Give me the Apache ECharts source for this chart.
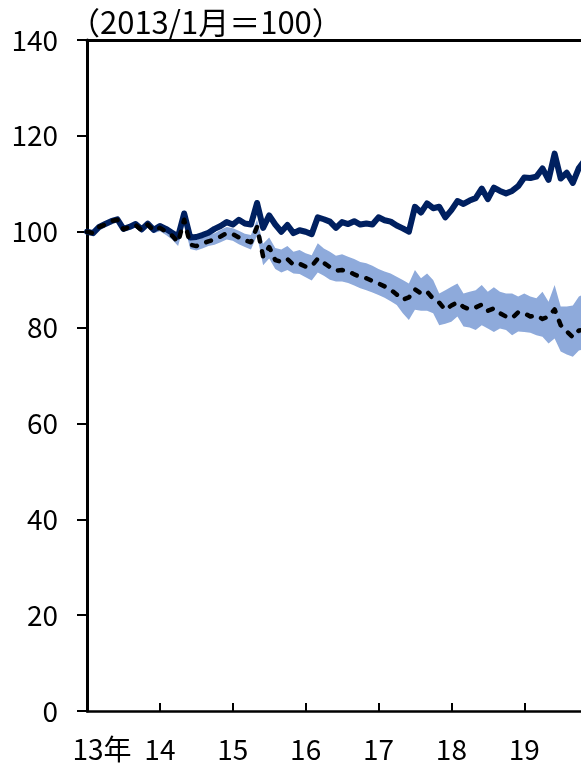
<!DOCTYPE html>
<html>
<head>
<meta charset="utf-8">
<script src="https://cdn.jsdelivr.net/npm/echarts@6/dist/echarts.min.js"></script>
<style>
html,body{margin:0;padding:0;background:#fff;}
#c{width:581px;height:767px;}
</style>
</head>
<body>
<div id="c"></div>
<script>
// Monthly index values, Jan 2013 = month 0
var yearTicks = ['13年', '14', '15', '16', '17', '18', '19', '20', '21'];
var navy = [100.0, 99.7, 101.0, 101.6, 102.2, 102.6, 100.6, 101.0, 101.6, 100.5, 101.7, 100.4,
 101.2, 100.6, 99.8, 99.0, 103.8, 98.8, 98.9, 99.3, 99.8, 100.6, 101.2, 102.0,
 101.5, 102.5, 101.7, 101.5, 106.0, 100.8, 103.4, 101.5, 100.0, 101.4, 99.7, 100.3,
 100.0, 99.5, 103.0, 102.6, 102.1, 100.8, 102.0, 101.6, 102.2, 101.5, 101.7, 101.5,
 103.0, 102.4, 102.1, 101.3, 100.7, 100.0, 105.2, 104.0, 105.9, 104.9, 105.2, 103.0,
 104.5, 106.4, 105.8, 106.5, 107.0, 109.0, 106.8, 109.2, 108.5, 108.0, 108.5, 109.5,
 111.3, 111.2, 111.5, 113.2, 110.8, 116.3, 111.1, 112.3, 110.2, 113.3, 115.0];
var dashed = [100.0, 99.7, 101.0, 101.5, 102.2, 102.5, 100.5, 101.0, 101.4, 100.3, 101.5, 100.2,
 100.8, 100.0, 99.2, 97.8, 102.5, 97.3, 97.0, 97.5, 98.0, 98.4, 99.0, 99.7,
 99.5, 98.8, 98.2, 97.8, 101.0, 94.8, 96.8, 94.1, 93.7, 94.3, 93.1, 93.3,
 92.7, 92.8, 94.4, 93.5, 92.6, 91.9, 92.0, 91.8, 91.1, 90.6, 90.3, 89.7,
 89.2, 88.6, 87.9, 86.9, 85.8, 86.3, 88.0, 87.1, 87.5, 86.0, 85.2, 83.7,
 84.6, 85.3, 84.3, 83.8, 84.2, 84.8, 83.5, 84.0, 83.0, 82.3, 82.0, 83.2,
 83.0, 82.3, 82.5, 81.8, 82.3, 83.8, 80.5, 79.2, 78.0, 79.4, 79.5];
var bandUpper = [100.5, 100.2, 101.5, 102.0, 102.7, 103.0, 101.0, 101.5, 101.9, 100.8, 102.0, 100.8,
 101.5, 101.0, 100.3, 99.3, 103.5, 98.5, 98.3, 98.8, 99.3, 99.7, 100.4, 101.0,
 100.7, 100.2, 99.6, 99.3, 102.5, 97.5, 98.8, 96.6, 96.3, 97.0, 95.8, 96.2,
 95.5, 95.1, 97.6, 96.5, 95.8, 95.0, 95.3, 94.8, 94.3, 93.7, 93.4, 92.9,
 92.2, 91.7, 91.3, 90.6, 89.9, 89.2, 92.0, 90.3, 91.3, 89.9, 87.1, 87.8,
 88.5, 89.2, 87.1, 87.5, 87.8, 88.9, 87.5, 88.4, 87.5, 87.1, 87.1, 86.5,
 87.1, 86.5, 86.1, 87.5, 85.4, 88.9, 84.4, 84.4, 84.6, 86.5, 87.0];
var bandLower = [99.5, 99.2, 100.5, 101.0, 101.7, 102.0, 100.0, 100.5, 100.9, 99.8, 101.0, 99.7,
 100.1, 99.3, 98.4, 97.0, 101.5, 96.4, 96.1, 96.5, 97.0, 97.3, 97.8, 98.4,
 98.1, 97.4, 96.8, 96.3, 99.2, 93.0, 94.4, 92.2, 91.5, 92.0, 91.3, 91.2,
 90.5, 89.8, 91.5, 90.8, 90.0, 89.6, 89.6, 89.3, 88.8, 88.2, 87.8, 87.3,
 86.8, 86.2, 85.5, 84.7, 83.0, 81.6, 83.7, 83.5, 83.5, 83.0, 80.5, 80.8,
 81.2, 82.3, 80.2, 80.0, 79.5, 80.5, 79.8, 79.1, 79.8, 79.5, 78.4, 79.2,
 79.1, 78.9, 78.4, 78.1, 76.7, 77.7, 75.0, 74.4, 73.9, 75.2, 75.5];

var FONT = '"Noto Sans CJK JP", sans-serif';
var months = [];
for (var i = 0; i <= 96; i++) months.push(String(i));
var bandDiff = bandUpper.map(function (v, i) { return +(v - bandLower[i]).toFixed(2); });
function yearMark(idx) { return idx % 12 === 0; }

var chart = echarts.init(document.getElementById('c'), null, {renderer: 'canvas'});
chart.setOption({
  animation: false,
  backgroundColor: '#ffffff',
  title: {
    text: '（2013/1月＝100）',
    left: 64, top: 2,
    textStyle: {fontFamily: FONT, fontSize: 31, fontWeight: 'normal', color: '#000'}
  },
  grid: {left: 87, top: 40, bottom: 56, width: 583, containLabel: false, outerBoundsMode: 'none'},
  xAxis: [{
    type: 'category', data: months, boundaryGap: false,
    axisLine: {show: true, onZero: false, lineStyle: {color: '#000', width: 2.5}},
    axisTick: {show: true, inside: true, length: 8, interval: function (i) { return yearMark(i); },
               lineStyle: {color: '#000', width: 2}},
    splitLine: {show: false},
    axisLabel: {
      margin: 24, color: '#000', fontFamily: FONT, fontSize: 28, hideOverlap: false,
      interval: function (i) { return yearMark(i); },
      formatter: function (v, idx) {
        var t = yearTicks[Math.round(idx / 12)];
        return idx === 0 ? '{a|' + t + '}' : t;
      },
      rich: {a: {fontFamily: FONT, fontSize: 28, color: '#000', padding: [0, 0, 0, 30]}}
    }
  }, {
    type: 'value', min: 0, max: 96, position: 'top',
    axisLine: {show: true, onZero: false, lineStyle: {color: '#000', width: 3}},
    axisTick: {show: false}, axisLabel: {show: false}, splitLine: {show: false}
  }],
  yAxis: {
    type: 'value', min: 0, max: 140, interval: 20,
    axisLine: {show: true, lineStyle: {color: '#000', width: 3}},
    axisTick: {show: true, inside: false, length: 10, lineStyle: {color: '#000', width: 2}},
    splitLine: {show: false},
    axisLabel: {margin: 29, color: '#000', fontFamily: FONT, fontSize: 28}
  },
  series: [{
    type: 'line', name: 'lower', data: bandLower, stack: 'band',
    symbol: 'none', lineStyle: {width: 0, opacity: 0}, silent: true, z: 1
  }, {
    type: 'line', name: 'band', data: bandDiff, stack: 'band',
    symbol: 'none', lineStyle: {width: 0, opacity: 0},
    areaStyle: {color: '#8eaadb', opacity: 1}, silent: true, z: 1
  }, {
    type: 'line', name: 'navy', data: navy,
    symbol: 'none', lineStyle: {color: '#002060', width: 6, cap: 'round', join: 'round'}, z: 3
  }, {
    type: 'line', name: 'dashed', data: dashed,
    symbol: 'none', lineStyle: {color: '#000', width: 4.5, type: [5, 10], cap: 'round', join: 'round'}, z: 4
  }]
});
</script>
</body>
</html>
